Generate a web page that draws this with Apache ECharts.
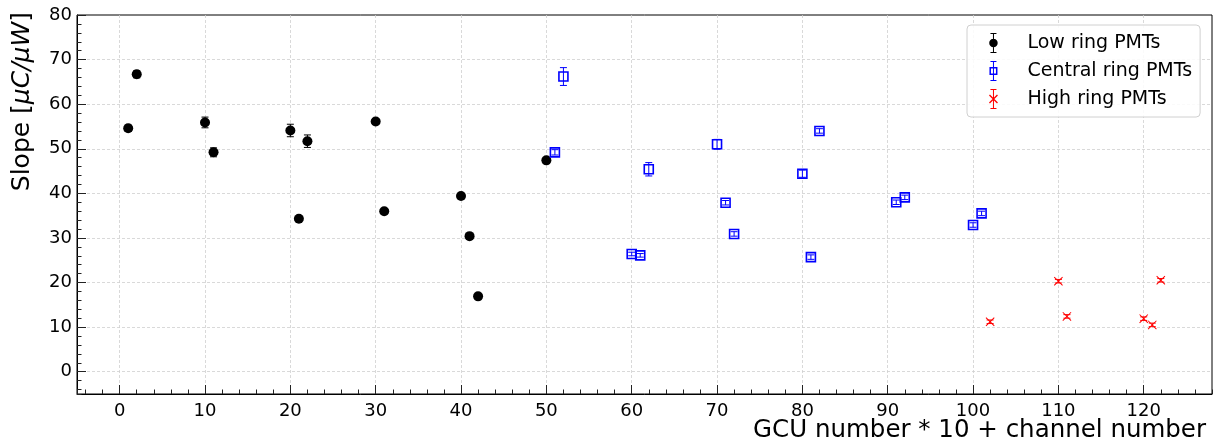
<!DOCTYPE html>
<html>
<head>
<meta charset="utf-8">
<script src="https://cdn.jsdelivr.net/npm/echarts@6/dist/echarts.min.js"></script>
<style>
html,body{margin:0;padding:0;background:#fff;}
#chart{width:1214px;height:444px;}
</style>
</head>
<body>
<div id="chart"></div>
<script>
// ---- data ----
const lowX   = [1, 2, 10, 11, 20, 21, 22, 30, 31, 40, 41, 42, 50];
const lowY   = [54.6, 66.7, 55.9, 49.2, 54.1, 34.3, 51.7, 56.1, 36.0, 39.4, 30.4, 16.9, 47.4];
const lowErr = [0.7, 0.8, 1.2, 1.0, 1.4, 0.3, 1.4, 0.6, 0.3, 0.3, 0.3, 0.3, 0.3];

const centralX   = [51, 52, 60, 61, 62, 70, 71, 72, 80, 81, 82, 91, 92, 100, 101];
const centralY   = [49.2, 66.2, 26.4, 26.1, 45.4, 51.0, 37.9, 30.9, 44.4, 25.7, 54.0, 38.0, 39.1, 32.9, 35.5];
const centralErr = [0.6, 2.0, 0.4, 0.4, 1.5, 1.1, 0.5, 0.5, 0.8, 0.5, 0.5, 0.5, 0.5, 0.5, 0.5];

const highX   = [102, 110, 111, 120, 121, 122];
const highY   = [11.2, 20.3, 12.4, 11.9, 10.5, 20.5];
const highErr = [0.4, 0.4, 0.4, 0.4, 0.4, 0.4];

const seriesNames = ['Low ring PMTs', 'Central ring PMTs', 'High ring PMTs'];
const xAxisTitle = 'GCU number * 10 + channel number';
const yAxisTitleParts = ['Slope [', 'μC/μW', ']'];

// ---- helpers ----
const FONT = 'DejaVu Sans';
function pts(xs, ys, es) { return xs.map((x, i) => es ? [x, ys[i], es[i]] : [x, ys[i]]); }

function errRender(color) {
  return function (params, api) {
    const x = api.value(0), y = api.value(1), e = api.value(2);
    const top = api.coord([x, y + e]);
    const bot = api.coord([x, y - e]);
    const cw = 3.5;
    const st = { stroke: color, lineWidth: 1 };
    return {
      type: 'group',
      children: [
        { type: 'line', shape: { x1: top[0], y1: top[1], x2: bot[0], y2: bot[1] }, style: st },
        { type: 'line', shape: { x1: top[0] - cw, y1: top[1], x2: top[0] + cw, y2: top[1] }, style: st },
        { type: 'line', shape: { x1: bot[0] - cw, y1: bot[1], x2: bot[0] + cw, y2: bot[1] }, style: st }
      ]
    };
  };
}

const barPath = 'M3,0 H15 V2 H3 Z M3,38 H15 V40 H3 Z M8,0 H10 V40 H8 Z ';
const circlePath = 'M17.5,20 C17.5,24.69 13.69,28.5 9,28.5 C4.31,28.5 0.5,24.69 0.5,20 C0.5,15.31 4.31,11.5 9,11.5 C13.69,11.5 17.5,15.31 17.5,20 Z';
const squarePath = 'M1,12 H17 V28 H1 Z M4,15 V25 H14 V15 Z';
const xPath = 'M1.92,11.08 L17.92,27.08 L16.08,28.92 L0.08,12.92 Z M17.92,12.92 L1.92,28.92 L0.08,27.08 L16.08,11.08 Z';
const xSymbol = 'path://M2.2,0.8 L19.2,17.8 L17.8,19.2 L0.8,2.2 Z M17.8,0.8 L19.2,2.2 L2.2,19.2 L0.8,17.8 Z';

const chart = echarts.init(document.getElementById('chart'), null, { renderer: 'canvas' });

const option = {
  backgroundColor: '#ffffff',
  animation: false,
  textStyle: { fontFamily: FONT },
  grid: {
    left: 77, top: 15, right: 2, bottom: 50,
    show: true, borderColor: '#000', borderWidth: 1, backgroundColor: '#fff'
  },
  xAxis: [
    {
      type: 'value', min: -5, max: 128, minInterval: 10, maxInterval: 10,
      position: 'bottom',
      axisLine: { show: true, onZero: false, lineStyle: { color: '#000', width: 1 } },
      axisTick: { show: true, inside: true, length: 9, lineStyle: { color: '#222', width: 1 } },
      axisLabel: { show: true, fontSize: 18, color: '#000', fontFamily: FONT, margin: 8, showMinLabel: false, showMaxLabel: false },
      splitLine: { show: true, showMinLine: false, showMaxLine: false, lineStyle: { color: '#cfcfcf', type: [3, 2], width: 0.8 } }
    },
    {
      type: 'value', min: -5, max: 128, minInterval: 2, maxInterval: 2,
      position: 'bottom',
      axisLine: { show: false, onZero: false },
      axisTick: { show: true, inside: true, length: 4.5, lineStyle: { color: '#222', width: 1 } },
      axisLabel: { show: false },
      splitLine: { show: false }
    }
  ],
  yAxis: [
    {
      type: 'value', min: -5, max: 80, minInterval: 10, maxInterval: 10,
      position: 'left',
      axisLine: { show: true, onZero: false, lineStyle: { color: '#000', width: 1 } },
      axisTick: { show: true, inside: true, length: 9, lineStyle: { color: '#222', width: 1 } },
      axisLabel: { show: true, fontSize: 18, color: '#000', fontFamily: FONT, margin: 5, showMinLabel: false },
      splitLine: { show: true, showMinLine: false, showMaxLine: false, lineStyle: { color: '#cfcfcf', type: [3, 2], width: 0.8 } }
    },
    {
      type: 'value', min: -5, max: 80, minInterval: 2, maxInterval: 2,
      position: 'left',
      axisLine: { show: false, onZero: false },
      axisTick: { show: true, inside: true, length: 4.5, lineStyle: { color: '#222', width: 1 } },
      axisLabel: { show: false },
      splitLine: { show: false }
    }
  ],
  legend: {
    orient: 'vertical', left: 967, top: 25,
    padding: [8, 8, 8, 22],
    itemWidth: 14, itemHeight: 20, itemGap: 8,
    backgroundColor: 'rgba(255,255,255,0.85)',
    borderColor: '#d0d0d0', borderWidth: 1, borderRadius: 4,
    textStyle: { fontSize: 19, color: '#000', fontFamily: FONT, rich: { g: { width: 22 } } },
    formatter: function (n) { return '{g| }' + n; },
    data: [
      { name: seriesNames[0], icon: 'path://' + barPath + circlePath, itemStyle: { color: '#000000', borderWidth: 0 } },
      { name: seriesNames[1], icon: 'path://' + barPath + squarePath, itemStyle: { color: '#0000ff', borderWidth: 0 } },
      { name: seriesNames[2], icon: 'path://' + barPath + xPath, itemStyle: { color: '#ff0000', borderWidth: 0 } }
    ]
  },
  graphic: [
    {
      type: 'text', x: 22, y: 12, rotation: Math.PI / 2,
      style: {
        text: '{n|' + yAxisTitleParts[0] + '}{i|' + yAxisTitleParts[1] + '}{n|' + yAxisTitleParts[2] + '}',
        align: 'right', verticalAlign: 'middle',
        rich: {
          n: { fontSize: 25, fontFamily: FONT, fill: '#000' },
          i: { fontSize: 25, fontFamily: FONT, fontStyle: 'italic', fill: '#000' }
        }
      }
    },
    {
      type: 'text', x: 1206, y: 431,
      style: { text: xAxisTitle, fontSize: 24.5, fontFamily: FONT, fill: '#000', align: 'right', verticalAlign: 'middle' }
    }
  ],
  series: [
    { name: 'lowErr', type: 'custom', xAxisIndex: 0, yAxisIndex: 0, renderItem: errRender('#000000'), data: pts(lowX, lowY, lowErr), encode: { x: 0, y: 1 }, z: 2, silent: true },
    { name: 'centralErr', type: 'custom', xAxisIndex: 0, yAxisIndex: 0, renderItem: errRender('#0000ff'), data: pts(centralX, centralY, centralErr), encode: { x: 0, y: 1 }, z: 2, silent: true },
    { name: 'highErr', type: 'custom', xAxisIndex: 0, yAxisIndex: 0, renderItem: errRender('#ff0000'), data: pts(highX, highY, highErr), encode: { x: 0, y: 1 }, z: 2, silent: true },
    {
      name: seriesNames[0], type: 'scatter', xAxisIndex: 0, yAxisIndex: 0, z: 3,
      symbol: 'circle', symbolSize: 10,
      itemStyle: { color: '#000000', opacity: 1 },
      data: pts(lowX, lowY)
    },
    {
      name: seriesNames[1], type: 'scatter', xAxisIndex: 0, yAxisIndex: 0, z: 3,
      symbol: 'rect', symbolSize: 9,
      itemStyle: { color: 'rgba(0,0,0,0)', borderColor: '#0000ff', borderWidth: 1.6, opacity: 1 },
      data: pts(centralX, centralY)
    },
    {
      name: seriesNames[2], type: 'scatter', xAxisIndex: 0, yAxisIndex: 0, z: 3,
      symbol: xSymbol, symbolSize: 9,
      itemStyle: { color: '#ff0000', opacity: 1 },
      data: pts(highX, highY)
    }
  ]
};
chart.setOption(option);
</script>
</body>
</html>
